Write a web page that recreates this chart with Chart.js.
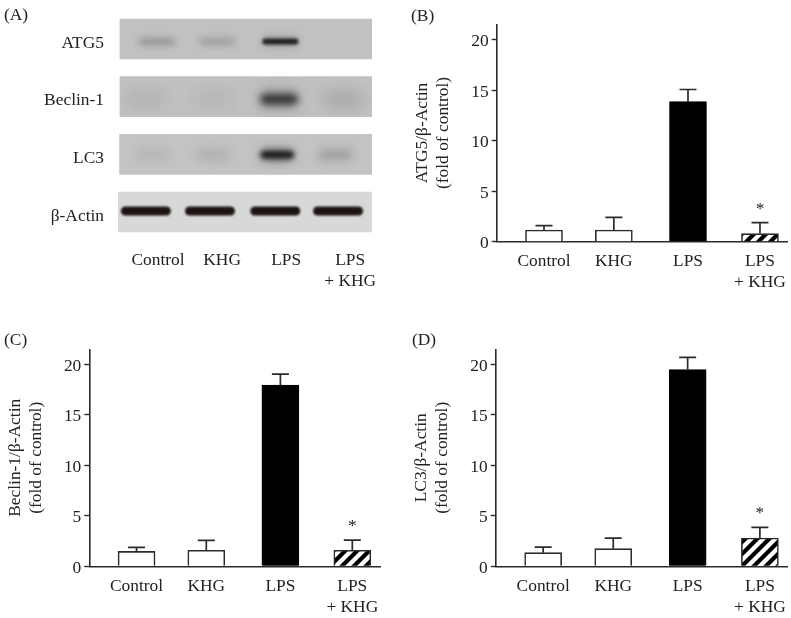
<!DOCTYPE html>
<html>
<head>
<meta charset="utf-8">
<title>Autophagy markers</title>
<script src="https://cdn.jsdelivr.net/npm/chart.js@4/dist/chart.umd.min.js"></script>
<style>
  html, body { margin: 0; padding: 0; background: #fff; }
  #page { position: relative; width: 791px; height: 618px; overflow: hidden; }
  canvas { position: absolute; }
  .tag { position: absolute; font: 17.4px "Liberation Serif", serif; color: #222; line-height: 20px; }
</style>
</head>
<body>
<div id="page">
  <canvas id="panelA" width="400" height="300" style="left:0;top:0"></canvas>
  <canvas id="panelB" width="391" height="310" style="left:400px;top:0"></canvas>
  <canvas id="panelC" width="391" height="298" style="left:0;top:320px"></canvas>
  <canvas id="panelD" width="391" height="298" style="left:400px;top:320px"></canvas>
  <div class="tag" style="left:4px;top:4px">(A)</div>
  <div class="tag" style="left:411px;top:5px">(B)</div>
  <div class="tag" style="left:4px;top:329px">(C)</div>
  <div class="tag" style="left:412px;top:329px">(D)</div>
</div>

<script>
// categories
const groups = ['Control', 'KHG', 'LPS', ['LPS', '+ KHG']];
const blotRows = ['ATG5', 'Beclin-1', 'LC3', 'β-Actin'];

// bar heights
const atg5Means = [1.15, 1.15, 13.85, 0.8];
const atg5Tops = [1.58, 2.4, 15.05, 1.88];
const beclinMeans = [1.48, 1.58, 17.95, 1.58];
const beclinTops = [1.88, 2.57, 19.05, 2.6];
const lc3Means = [1.35, 1.75, 19.5, 2.8];
const lc3Tops = [1.9, 2.8, 20.7, 3.86];

// band darkness on the blot, one per lane
const atg5Bands = [0.22, 0.18, 0.9, 0];
const beclinBands = [0.07, 0.05, 0.75, 0.12];
const lc3Bands = [0.06, 0.09, 1, 0.18];
const actinBands = [1, 1, 1, 1];

// y axis
const yTicks = [0, 5, 10, 15, 20];
const yMax = 21.5;

// x position of each group on the bar panels, groups are not quite evenly spaced
const slots = [0, 0.97, 2, 3];

Chart.defaults.font.family = '"Liberation Serif", serif';
Chart.defaults.font.size = 17.4;
Chart.defaults.color = '#222';
Chart.defaults.animation = false;

const inkColor = '#2b2b2b';

// diagonal stripes for the LPS + KHG bar
function makeHatch() {
    const c = document.createElement('canvas');
    c.width = 12;
    c.height = 12;
    const g = c.getContext('2d');
    g.fillStyle = '#fff';
    g.fillRect(0, 0, 12, 12);
    g.strokeStyle = '#000';
    g.lineWidth = 4.2;
    g.beginPath();
    g.moveTo(-6, 6); g.lineTo(6, -6);
    g.moveTo(0, 12); g.lineTo(12, 0);
    g.moveTo(6, 18); g.lineTo(18, 6);
    g.stroke();
    return g.createPattern(c, 'repeat');
}

// upper error whisker on each bar and the star over the last one
const whiskerPlugin = {
    id: 'whiskers',
    afterDatasetsDraw(chart, args, opts) {
        const { ctx, scales: { x, y } } = chart;
        ctx.save();
        ctx.strokeStyle = inkColor;
        ctx.lineWidth = 1.7;
        slots.forEach((slot, i) => {
            const px = x.getPixelForValue(slot);
            const top = y.getPixelForValue(opts.tops[i]);
            ctx.beginPath();
            ctx.moveTo(px, y.getPixelForValue(opts.means[i]));
            ctx.lineTo(px, top);
            ctx.moveTo(px - 8.5, top);
            ctx.lineTo(px + 8.5, top);
            ctx.stroke();
        });
        ctx.fillStyle = '#222';
        ctx.font = '17.4px "Liberation Serif"';
        ctx.textAlign = 'center';
        ctx.textBaseline = 'middle';
        ctx.fillText('*', x.getPixelForValue(slots[3]), y.getPixelForValue(opts.star) + 3);
        ctx.restore();
    }
};

function drawBarPanel(id, title, means, tops, star, yAxisWidth, rightPad, topPad, xAxisHeight) {
    const hatch = makeHatch();
    return new Chart(document.getElementById(id), {
        type: 'bar',
        data: {
            datasets: [{
                data: slots.map((s, i) => ({ x: s, y: means[i] })),
                backgroundColor: ['#fff', '#fff', '#000', hatch],
                borderColor: [inkColor, inkColor, '#000', inkColor],
                borderWidth: 1.6,
                borderSkipped: 'bottom',
                barThickness: 37
            }]
        },
        options: {
            responsive: false,
            layout: { padding: { top: topPad, right: rightPad, left: 0, bottom: 0 } },
            plugins: {
                legend: { display: false },
                tooltip: { enabled: false },
                whiskers: { means: means, tops: tops, star: star }
            },
            scales: {
                x: {
                    type: 'linear',
                    offset: false,
                    min: -0.657,
                    max: 3.385,
                    grid: { display: false },
                    border: { color: inkColor, width: 1.6 },
                    afterBuildTicks: axis => { axis.ticks = slots.map(v => ({ value: v })); },
                    afterFit: axis => {
                        axis.height = xAxisHeight;
                        axis.paddingLeft = 0;
                        axis.paddingRight = 0;
                    },
                    ticks: {
                        autoSkip: false,
                        maxRotation: 0,
                        padding: 1.5,
                        color: '#222',
                        callback: (value, i) => groups[i]
                    }
                },
                y: {
                    min: 0,
                    max: yMax,
                    afterBuildTicks: axis => { axis.ticks = yTicks.map(v => ({ value: v })); },
                    afterFit: axis => { axis.width = yAxisWidth; },
                    grid: { drawOnChartArea: false, tickLength: 5, tickColor: inkColor, tickWidth: 1.4 },
                    border: { color: inkColor, width: 1.6 },
                    ticks: { padding: 3, labelOffset: 2, color: '#222' },
                    title: {
                        display: true,
                        text: [title, '(fold of control)'],
                        color: '#222',
                        padding: { top: yAxisWidth - 84.5, bottom: 0 }
                    }
                }
            }
        },
        plugins: [whiskerPlugin]
    });
}

drawBarPanel('panelB', 'ATG5/β-Actin', atg5Means, atg5Tops, 3.46, 96.7, 3.3, 24.3, 68.3);
drawBarPanel('panelC', 'Beclin-1/β-Actin', beclinMeans, beclinTops, 4.2, 89.3, 11, 29.3, 51.7);
drawBarPanel('panelD', 'LC3/β-Actin', lc3Means, lc3Tops, 5.5, 95.7, 3.3, 29.3, 51.7);

// panel A, the blot: grey strips are floating bars, bands sit on the same scales
const laneMin = -0.625;
const laneMax = 3.34;
const stripStarts = [-0.594, -0.594, -0.6, laneMin];
const stripColors = ['#c1c1c1', '#c0c0c0', '#c3c3c3', '#d8d8d8'];
const bandStyles = [
    { shift: [-0.02, -0.08, -0.09, -0.11], w: 36, h: 6, blur: 1.8, halo: 0.25, dy: 2.5 },
    { shift: [-0.2, -0.14, -0.11, -0.11], w: 38, h: 11, blur: 3.5, halo: 0.3, dy: 2.5 },
    { shift: [-0.08, -0.14, -0.14, -0.23], w: 33, h: 7, blur: 2.4, halo: 0.5, dy: 0.5 },
    { shift: [-0.19, -0.19, -0.17, -0.19], w: 50, h: 9, blur: 0.8, halo: 0, dy: -1 }
];
const bandRows = [atg5Bands, beclinBands, lc3Bands, actinBands];

const bandPlugin = {
    id: 'bands',
    afterDatasetsDraw(chart) {
        const { ctx, scales: { x, y } } = chart;
        bandRows.forEach((row, r) => {
            const st = bandStyles[r];
            row.forEach((dark, lane) => {
                if (!dark) return;
                const cx = x.getPixelForValue(lane + st.shift[lane]);
                const cy = y.getPixelForValue(r) + st.dy;
                // faint bands on the film are more diffuse than the strong ones
                const blur = dark < 0.5 ? st.blur * 1.8 : st.blur;
                ctx.save();
                // keep blur inside the strip
                ctx.beginPath();
                ctx.rect(x.left, y.getPixelForValue(r) - 20, x.right - x.left, 40);
                ctx.clip();
                if (st.halo) {
                    ctx.filter = 'blur(' + (st.blur * 2) + 'px)';
                    ctx.fillStyle = 'rgba(40,40,40,' + dark * st.halo + ')';
                    ctx.beginPath();
                    ctx.roundRect(cx - st.w / 2, cy - st.h * 0.9, st.w, st.h * 1.8, 5);
                    ctx.fill();
                }
                ctx.filter = 'blur(' + blur + 'px)';
                ctx.fillStyle = r === 3 ? 'rgb(28,20,18)' : 'rgba(20,20,20,' + dark + ')';
                ctx.beginPath();
                ctx.roundRect(cx - st.w / 2, cy - st.h / 2, st.w, st.h, st.h / 2);
                ctx.fill();
                ctx.restore();
            });
        });
    }
};

new Chart(document.getElementById('panelA'), {
    type: 'bar',
    data: {
        labels: blotRows,
        datasets: [{
            data: stripStarts.map(s => [s, laneMax]),
            backgroundColor: stripColors,
            barThickness: 40,
            borderSkipped: false
        }]
    },
    options: {
        indexAxis: 'y',
        responsive: false,
        layout: { padding: { top: 10.15, left: 0, right: 28, bottom: 0 } },
        plugins: { legend: { display: false }, tooltip: { enabled: false } },
        scales: {
            x: {
                type: 'linear',
                min: laneMin,
                max: laneMax,
                grid: { display: false },
                border: { display: false },
                afterBuildTicks: axis => { axis.ticks = [0, 1, 2, 3].map(v => ({ value: v })); },
                afterFit: axis => {
                    axis.height = 59.15;
                    axis.paddingLeft = 0;
                    axis.paddingRight = 0;
                },
                ticks: {
                    autoSkip: false,
                    maxRotation: 0,
                    padding: 1,
                    color: '#222',
                    callback: (value, i) => groups[i]
                }
            },
            y: {
                grid: { display: false },
                border: { display: false },
                afterFit: axis => {
                    axis.width = 118;
                    axis.paddingTop = 0;
                    axis.paddingBottom = 0;
                },
                ticks: { padding: 6, labelOffset: 4, color: '#222' }
            }
        }
    },
    plugins: [bandPlugin]
});
</script>
</body>
</html>
